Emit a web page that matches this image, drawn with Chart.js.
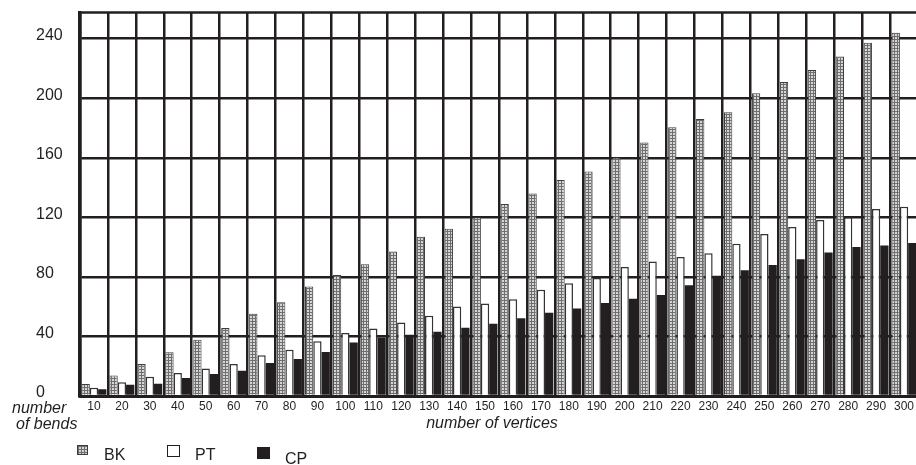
<!DOCTYPE html>
<html>
<head>
<meta charset="utf-8">
<script src="https://cdn.jsdelivr.net/npm/chart.js@4/dist/chart.umd.min.js"></script>
<style>
  body { margin: 0; background: #fff; overflow: hidden; }
  #wrap { position: relative; width: 916px; height: 465px; overflow: hidden;
          font-family: "Liberation Sans", Arial, sans-serif; color: #231f20; }
  #bends-chart { position: absolute; left: 0; top: 0; }
  .lbl { position: absolute; font-size: 16px; line-height: 18px; white-space: nowrap; }
  .it { font-style: italic; }
  .sw { position: absolute; box-sizing: border-box; }
  .sw-bk { border: 1px solid #3c3c3c; background-color: #d4d4d4;
           background-image: linear-gradient(#6e6e6e 1px, transparent 1px),
                             linear-gradient(90deg, #6e6e6e 1px, transparent 1px);
           background-size: 3px 3px; }
  .sw-pt { border: 1.5px solid #231f20; background: #fff; }
  .sw-cp { background: #231f20; }
</style>
</head>
<body>
<div id="wrap">
  <canvas id="bends-chart" width="920" height="465"></canvas>

  <div class="lbl it" style="left:12px; top:399px;">number</div>
  <div class="lbl it" style="left:16px; top:415px;">of bends</div>
  <div class="lbl it" style="left:492px; top:414px; transform:translateX(-50%);">number of vertices</div>

  <div class="sw sw-bk" style="left:77px; top:445px; width:11px; height:10px;"></div>
  <div class="lbl" style="left:104px; top:446px;">BK</div>
  <div class="sw sw-pt" style="left:167px; top:445px; width:13px; height:12px;"></div>
  <div class="lbl" style="left:195px; top:446px;">PT</div>
  <div class="sw sw-cp" style="left:257px; top:447px; width:13px; height:12px;"></div>
  <div class="lbl" style="left:285px; top:450px;">CP</div>
</div>

<script>
// number of vertices
const vertices = [10, 20, 30, 40, 50, 60, 70, 80, 90, 100,
                  110, 120, 130, 140, 150, 160, 170, 180, 190, 200,
                  210, 220, 230, 240, 250, 260, 270, 280, 290, 300];

// number of bends per algorithm
const bkBends = [8, 13.7, 21.5, 29.3, 37.8, 45.6, 55.2, 63, 73.5, 81.3,
                 88.5, 97, 107, 112.4, 120, 128.9, 136, 145, 150.8, 160.2,
                 170.3, 180.5, 186, 190.6, 203.3, 210.9, 218.9, 228, 237.2, 244];
const ptBends = [5.5, 9.2, 13, 15.5, 18.4, 21.5, 27.3, 31.1, 36.7, 42.3,
                 45.4, 49.4, 53.9, 60.1, 62.1, 65, 71.3, 75.8, 79.3, 86.7,
                 90.3, 93.4, 95.9, 102.3, 108.8, 113.5, 118.2, 120, 125.6, 127.1];
const cpBends = [4.5, 7.5, 8.3, 12.1, 14.8, 17, 22.2, 24.9, 29.5, 36,
                 39.3, 41.1, 43.1, 45.8, 48.5, 52.3, 55.9, 58.8, 62.4, 65.3,
                 67.9, 74.4, 80.7, 84.5, 88, 91.9, 96.3, 100.1, 101, 102.8];

const yTicks = [0, 40, 80, 120, 160, 200, 240];

const ink = '#231f20';

// small dotted tile for the BK bars
const makeDots = () => {
  const tile = document.createElement('canvas');
  tile.width = 3; tile.height = 3;
  const t = tile.getContext('2d');
  t.fillStyle = '#6e6e6e';
  t.fillRect(0, 0, 3, 3);
  t.fillStyle = '#d6d6d6';
  t.fillRect(1, 1, 2, 2);
  return t.createPattern(tile, 'repeat');
};

const ctx = document.getElementById('bends-chart').getContext('2d');

// top edge of the plot frame
const frameTop = {
  id: 'frameTop',
  afterDatasetsDraw(chart) {
    const {ctx, chartArea} = chart;
    ctx.save();
    ctx.strokeStyle = ink;
    ctx.lineWidth = 2.5;
    ctx.beginPath();
    ctx.moveTo(chartArea.left, chartArea.top);
    ctx.lineTo(chartArea.right, chartArea.top);
    ctx.stroke();
    ctx.restore();
  }
};

new Chart(ctx, {
  type: 'bar',
  data: {
    labels: vertices,
    datasets: [
      { label: 'BK', data: bkBends, backgroundColor: makeDots(),
        borderColor: '#3c3c3c', borderWidth: 1 },
      { label: 'PT', data: ptBends, backgroundColor: '#ffffff',
        borderColor: '#333333', borderWidth: 1.5 },
      { label: 'CP', data: cpBends, backgroundColor: ink,
        borderColor: ink, borderWidth: 0 }
    ]
  },
  options: {
    responsive: false,
    animation: false,
    devicePixelRatio: 1,
    layout: { padding: { left: 36, top: 12, right: 2, bottom: 0 } },
    datasets: { bar: { categoryPercentage: 0.89, barPercentage: 1 } },
    plugins: { legend: { display: false }, tooltip: { enabled: false } },
    scales: {
      x: {
        z: 1,
        grid: { offset: true, color: ink, lineWidth: 2.5, drawTicks: false },
        border: { color: ink, width: 3 },
        ticks: { color: ink, padding: 3, maxRotation: 0, autoSkip: false,
                 font: { family: '"Liberation Sans", Arial, sans-serif', size: 12 } },
        afterFit(scale) { scale.height = 69; }
      },
      y: {
        min: 0,
        max: 257.5,
        grid: { color: ink, lineWidth: 2.5, drawTicks: false },
        border: { color: ink, width: 3.5 },
        afterBuildTicks(scale) { scale.ticks = yTicks.map(v => ({ value: v })); },
        ticks: { color: ink, crossAlign: 'far', labelOffset: -3,
                 font: { family: '"Liberation Sans", Arial, sans-serif', size: 16 } },
        afterFit(scale) { scale.width = 44; }
      }
    }
  },
  plugins: [frameTop]
});
</script>
</body>
</html>
